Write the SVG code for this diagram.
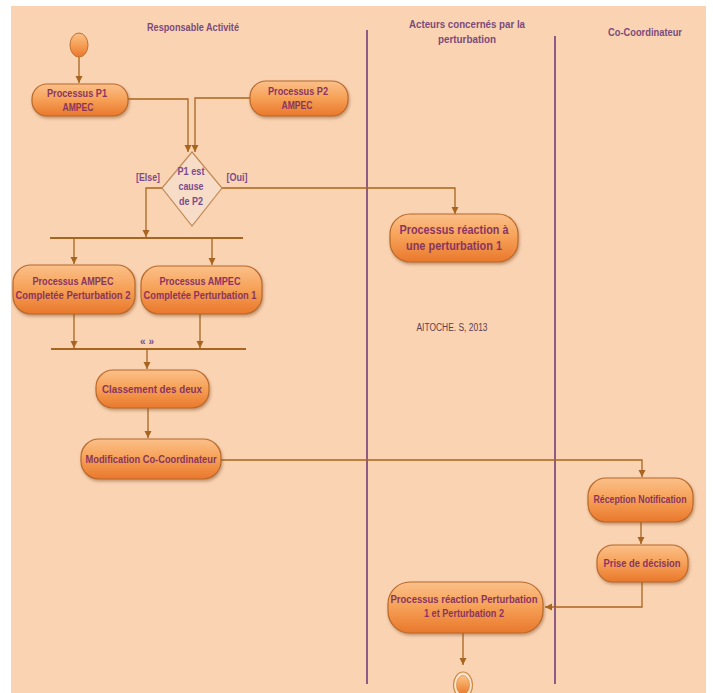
<svg xmlns="http://www.w3.org/2000/svg" width="713" height="693" viewBox="0 0 713 693">
<defs>
<linearGradient id="og" x1="0" y1="0" x2="0" y2="1">
<stop offset="0" stop-color="#FBC08A"/>
<stop offset="0.45" stop-color="#F7A35A"/>
<stop offset="1" stop-color="#E9782C"/>
</linearGradient>
<filter id="sh" x="-20%" y="-20%" width="140%" height="150%">
<feDropShadow dx="1" dy="2" stdDeviation="1.5" flood-color="#7a4a20" flood-opacity="0.45"/>
</filter>
<marker id="ar" markerWidth="8" markerHeight="8" refX="7" refY="4" orient="auto" markerUnits="userSpaceOnUse">
<path d="M0,0.5 L7,4 L0,7.5 Z" fill="#A8651F"/>
</marker>
</defs>
<style>
.node{fill:url(#og);stroke:#B8692A;stroke-width:1.2;filter:url(#sh)}
.t{font-family:"Liberation Sans",Arial,sans-serif;font-weight:bold;font-size:11px;fill:#8A3560;text-anchor:middle}
.lane{font-family:"Liberation Sans",Arial,sans-serif;font-weight:bold;font-size:10px;fill:#7B4B7B;text-anchor:middle}
.g{font-family:"Liberation Sans",Arial,sans-serif;font-weight:bold;font-size:10px;fill:#7B4B8B;text-anchor:middle}
.c{fill:none;stroke:#A8651F;stroke-width:1.3}
.bar{stroke:#A8651F;stroke-width:2}
.sw{stroke:#8E5A86;stroke-width:2}
</style>
<rect x="11" y="6" width="695" height="687" fill="#FAD3B3"/>
<g id="lanes">
<line class="sw" x1="367" y1="30" x2="367" y2="684"/>
<line class="sw" x1="555" y1="36" x2="555" y2="684"/>
<text class="lane" x="193" y="31" textLength="92" lengthAdjust="spacingAndGlyphs">Responsable Activité</text>
<text class="lane" x="467" y="28" textLength="116" lengthAdjust="spacingAndGlyphs">Acteurs concernés par la</text>
<text class="lane" x="467" y="43" textLength="58" lengthAdjust="spacingAndGlyphs">perturbation</text>
<text class="lane" x="645" y="36" textLength="74" lengthAdjust="spacingAndGlyphs">Co-Coordinateur</text>
<text x="452" y="331" font-family="'Liberation Sans',Arial,sans-serif" font-size="10" fill="#5A4050" text-anchor="middle" textLength="71" lengthAdjust="spacingAndGlyphs">AITOCHE. S, 2013</text>
</g>
<g id="connectors">
<path class="c" d="M79,57 L79,83" marker-end="url(#ar)"/>
<path class="c" d="M128,99 L188,99 L188,152" marker-end="url(#ar)"/>
<path class="c" d="M250,98 L195,98 L195,152" marker-end="url(#ar)"/>
<path class="c" d="M162,188 L146,188 L146,237" marker-end="url(#ar)"/>
<path class="c" d="M222,188 L455,188 L455,214" marker-end="url(#ar)"/>
<line class="bar" x1="50" y1="238" x2="243" y2="238"/>
<path class="c" d="M74,238 L74,264" marker-end="url(#ar)"/>
<path class="c" d="M212,238 L212,265" marker-end="url(#ar)"/>
<path class="c" d="M74,314 L74,348" marker-end="url(#ar)"/>
<path class="c" d="M200,314 L200,348" marker-end="url(#ar)"/>
<line class="bar" x1="51" y1="349" x2="246" y2="349"/>
<path class="c" d="M147,349 L147,369" marker-end="url(#ar)"/>
<path class="c" d="M148,408 L148,438" marker-end="url(#ar)"/>
<path class="c" d="M221,460 L642,460 L642,477" marker-end="url(#ar)"/>
<path class="c" d="M641,522 L641,544" marker-end="url(#ar)"/>
<path class="c" d="M642,582 L642,607 L545,607" marker-end="url(#ar)"/>
<path class="c" d="M463,633 L463,665" marker-end="url(#ar)"/>
</g>
<text class="g" x="148" y="181" textLength="24" lengthAdjust="spacingAndGlyphs">[Else]</text>
<text class="g" x="237" y="181" textLength="21" lengthAdjust="spacingAndGlyphs">[Oui]</text>
<text class="g" x="147" y="345">« »</text>
<g id="start">
<ellipse cx="79" cy="45" rx="9" ry="12" fill="url(#og)" stroke="#C07030" stroke-width="1"/>
</g>
<g id="p1">
<rect class="node" x="32" y="84" width="96" height="32" rx="15"/>
<text class="t" x="77" y="97" textLength="60" lengthAdjust="spacingAndGlyphs">Processus P1</text>
<text class="t" x="78" y="111" textLength="31" lengthAdjust="spacingAndGlyphs">AMPEC</text>
</g>
<g id="p2">
<rect class="node" x="250" y="81" width="98" height="35" rx="16"/>
<text class="t" x="298" y="95" textLength="60" lengthAdjust="spacingAndGlyphs">Processus P2</text>
<text class="t" x="297" y="109" textLength="31" lengthAdjust="spacingAndGlyphs">AMPEC</text>
</g>
<g id="decision">
<polygon points="192,152 222,188 192,226 162,188" fill="#F7DCC8" stroke="#C08A55" stroke-width="1.2"/>
<text class="g" x="191" y="175" textLength="27" lengthAdjust="spacingAndGlyphs">P1 est</text>
<text class="g" x="191" y="190" textLength="25" lengthAdjust="spacingAndGlyphs">cause</text>
<text class="g" x="191" y="205" textLength="24" lengthAdjust="spacingAndGlyphs">de P2</text>
</g>
<g id="cp2">
<rect class="node" x="13" y="265" width="122" height="49" rx="18"/>
<text class="t" x="73" y="285" textLength="81" lengthAdjust="spacingAndGlyphs">Processus AMPEC</text>
<text class="t" x="73" y="299" textLength="115" lengthAdjust="spacingAndGlyphs">Completée Perturbation 2</text>
</g>
<g id="cp1">
<rect class="node" x="141" y="266" width="121" height="48" rx="18"/>
<text class="t" x="200" y="285" textLength="81" lengthAdjust="spacingAndGlyphs">Processus AMPEC</text>
<text class="t" x="200" y="299" textLength="113" lengthAdjust="spacingAndGlyphs">Completée Perturbation 1</text>
</g>
<g id="classement">
<rect class="node" x="96" y="370" width="113" height="38" rx="17"/>
<text class="t" x="152" y="393" textLength="100" lengthAdjust="spacingAndGlyphs">Classement des deux</text>
</g>
<g id="modification">
<rect class="node" x="81" y="439" width="140" height="40" rx="18"/>
<text class="t" x="151" y="463" textLength="131" lengthAdjust="spacingAndGlyphs">Modification Co-Coordinateur</text>
</g>
<g id="reaction1">
<rect class="node" x="390" y="214" width="128" height="48" rx="20"/>
<text class="t" x="454" y="234" style="font-size:13px" textLength="109" lengthAdjust="spacingAndGlyphs">Processus réaction à</text>
<text class="t" x="454" y="250" style="font-size:13px" textLength="96" lengthAdjust="spacingAndGlyphs">une perturbation 1</text>
</g>
<g id="reception">
<rect class="node" x="588" y="478" width="105" height="44" rx="18"/>
<text class="t" x="640" y="503" textLength="93" lengthAdjust="spacingAndGlyphs">Réception Notification</text>
</g>
<g id="prise">
<rect class="node" x="597" y="545" width="91" height="37" rx="16"/>
<text class="t" x="642" y="567" textLength="77" lengthAdjust="spacingAndGlyphs">Prise de décision</text>
</g>
<g id="reaction12">
<rect class="node" x="388" y="582" width="155" height="51" rx="22"/>
<text class="t" x="464" y="603" textLength="147" lengthAdjust="spacingAndGlyphs">Processus réaction Perturbation</text>
<text class="t" x="464" y="617" textLength="80" lengthAdjust="spacingAndGlyphs">1 et Perturbation 2</text>
</g>
<g id="end">
<ellipse cx="463" cy="685" rx="9.5" ry="13" fill="#FBE3CC" stroke="#C98840" stroke-width="1.2"/>
<ellipse cx="463" cy="685" rx="6.5" ry="9.5" fill="url(#og)" stroke="#C98840" stroke-width="0.6"/>
</g>
</svg>
